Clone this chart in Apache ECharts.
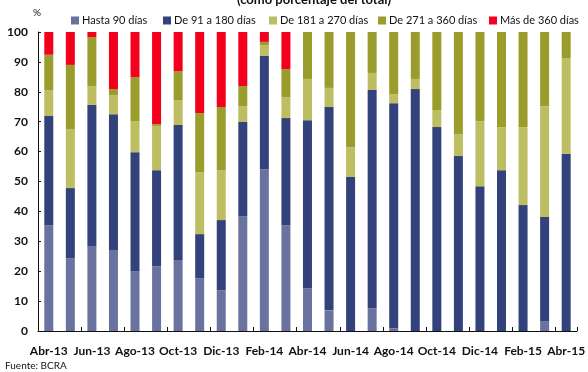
<!DOCTYPE html>
<html>
<head>
<meta charset="utf-8">
<script src="https://cdn.jsdelivr.net/npm/echarts@6/dist/echarts.min.js"></script>
<style>
  html, body { margin: 0; padding: 0; background: #ffffff; }
  #chart { width: 588px; height: 372px; }
</style>
</head>
<body>
<div id="chart"></div>
<script>
// Monthly categories, Abr-13 to Abr-15
const months = [
  'Abr-13', 'May-13', 'Jun-13', 'Jul-13', 'Ago-13', 'Sep-13', 'Oct-13', 'Nov-13', 'Dic-13',
  'Ene-14', 'Feb-14', 'Mar-14', 'Abr-14', 'May-14', 'Jun-14', 'Jul-14', 'Ago-14', 'Sep-14',
  'Oct-14', 'Nov-14', 'Dic-14', 'Ene-15', 'Feb-15', 'Mar-15', 'Abr-15'
];

// Share of total by maturity bucket (%)
const hasta90 = [35.4, 24.3, 28.3, 27.1, 20.0, 21.7, 23.7, 17.6, 13.6, 38.4, 54.1, 35.4, 14.3, 6.9, 0, 7.6, 0.9, 0, 0, 0, 0, 0, 0, 3.2, 0];
const de91a180 = [36.5, 23.5, 47.3, 45.4, 39.8, 32.1, 45.2, 14.8, 23.5, 31.5, 37.9, 35.8, 56.2, 68.0, 51.5, 73.0, 75.3, 80.9, 68.2, 58.5, 48.4, 53.8, 42.1, 34.9, 59.2];
const de181a270 = [8.7, 19.7, 6.3, 6.4, 10.4, 14.7, 8.3, 20.7, 16.7, 5.3, 3.6, 7.0, 13.8, 6.4, 10.0, 5.7, 3.0, 3.4, 5.7, 7.3, 21.8, 14.4, 26.1, 37.1, 32.1];
const de271a360 = [11.8, 21.5, 16.4, 2.0, 14.7, 0.7, 9.7, 19.8, 21.1, 6.7, 1.1, 9.4, 15.7, 18.7, 38.5, 13.7, 20.8, 15.7, 26.1, 34.2, 29.8, 31.8, 31.8, 24.8, 8.7];
const mas360 = [7.6, 11.0, 1.7, 19.1, 15.1, 30.8, 13.1, 27.1, 25.1, 18.1, 3.3, 12.4, 0, 0, 0, 0, 0, 0, 0, 0, 0, 0, 0, 0, 0];

const seriesNames = ['Hasta 90 días', 'De 91 a 180 días', 'De 181 a 270 días', 'De 271 a 360 días', 'Más de 360 días'];
const seriesData = [hasta90, de91a180, de181a270, de271a360, mas360];
const seriesColors = ['#6a729f', '#33427a', '#bdbe62', '#9a9d2c', '#f2001c'];

const yTicks = [0, 10, 20, 30, 40, 50, 60, 70, 80, 90, 100];

const FONT = 'Lato, "Open Sans", sans-serif';

// one legend block per series so each key sits at its own x position
const legendLeft = [71, 163, 269, 378, 489];

const chart = echarts.init(document.getElementById('chart'), null, { renderer: 'canvas' });

chart.setOption({
  animation: false,
  backgroundColor: '#ffffff',
  textStyle: { fontFamily: FONT },
  grid: { left: 38, right: 5, top: 32, bottom: 41, containLabel: false },
  legend: seriesNames.map((name, i) => ({
    data: [name],
    left: legendLeft[i],
    top: 15,
    padding: 0,
    itemWidth: 8,
    itemHeight: 8,
    icon: 'rect',
    selectedMode: false,
    textStyle: { fontFamily: FONT, fontSize: 11, color: '#111111', padding: [0, 0, 0, -2] }
  })),
  graphic: [
    {
      type: 'text',
      left: 237,
      top: -7,
      style: { text: '(como porcentaje del total)', font: 'bold 13px ' + FONT, fill: '#111111' }
    },
    {
      type: 'text',
      left: 33,
      top: 8,
      style: { text: '%', font: '10px ' + FONT, fill: '#111111' }
    },
    {
      type: 'text',
      left: 5,
      top: 361,
      style: { text: 'Fuente: BCRA', font: '10px ' + FONT, fill: '#111111' }
    }
  ],
  xAxis: {
    type: 'category',
    data: months,
    boundaryGap: true,
    axisLine: { show: true, lineStyle: { color: '#111111', width: 1 } },
    axisTick: { show: true, inside: true, length: 4, interval: 1, lineStyle: { color: '#111111' } },
    axisLabel: {
      interval: 1,
      margin: 14,
      fontFamily: FONT,
      fontWeight: 'bold',
      fontSize: 12,
      color: '#111111'
    }
  },
  yAxis: {
    type: 'value',
    min: yTicks[0],
    max: yTicks[yTicks.length - 1],
    interval: 10,
    axisLine: { show: true, lineStyle: { color: '#111111', width: 1 } },
    axisTick: { show: true, inside: true, length: 3, lineStyle: { color: '#111111' } },
    splitLine: { show: false },
    axisLabel: {
      margin: 10,
      fontFamily: FONT,
      fontWeight: 'bold',
      fontSize: 12,
      color: '#111111'
    }
  },
  series: seriesNames.map((name, i) => ({
    name: name,
    type: 'bar',
    stack: 'total',
    barWidth: 9,
    data: seriesData[i],
    itemStyle: { color: seriesColors[i] }
  }))
});
</script>
</body>
</html>
